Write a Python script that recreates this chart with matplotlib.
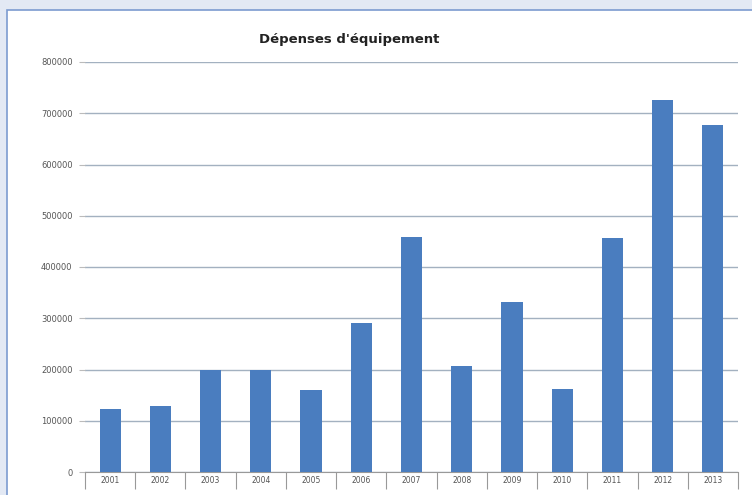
import numpy as np
import matplotlib
matplotlib.use('Agg')
import matplotlib.pyplot as plt
from matplotlib.patches import Rectangle

# Données
annees = ['2001', '2002', '2003', '2004', '2005', '2006', '2007',
          '2008', '2009', '2010', '2011', '2012', '2013']
depenses = [123000, 129000, 199000, 199000, 160000, 290000, 459000,
            207000, 332000, 162000, 457000, 726000, 677000]
graduations = [0, 100000, 200000, 300000, 400000, 500000, 600000, 700000, 800000]

W, H = 752, 495
fig = plt.figure(figsize=(W / 100, H / 100), dpi=100)
fig.patch.set_facecolor('#e3e9f4')

# Panneau blanc avec bordure bleue (derrière les axes)
fig.add_artist(Rectangle((7 / W, -0.05), 1, 1.05 - 10 / H, transform=fig.transFigure,
                         facecolor='white', edgecolor='#7c9bd0', linewidth=1.2,
                         zorder=-10))

ax = fig.add_axes([85 / W, 1 - 472 / H, (738 - 85) / W, (472 - 62) / H])
ax.set_facecolor('white')

x = np.arange(len(annees))
ax.bar(x, depenses, width=0.42, color='#4a7dbf', zorder=3)

ax.set_xlim(-0.5, len(annees) - 0.5)
ax.set_ylim(0, 800000)
ax.set_yticks(graduations)
ax.set_yticklabels([str(g) for g in graduations], fontsize=6, color='#555555')
ax.yaxis.grid(True, color='#a3b1c0', linewidth=1.0, zorder=0)
ax.tick_params(axis='y', length=4, color='#bbbbbb', pad=5)

ax.set_xticks(x)
ax.set_xticklabels(annees, fontsize=5.5, color='#555555')
ax.set_xticks(np.arange(len(annees) + 1) - 0.5, minor=True)
ax.tick_params(axis='x', which='major', length=0, pad=3)
ax.tick_params(axis='x', which='minor', length=12, color='#999999', width=0.8)

for side in ['top', 'right', 'left']:
    ax.spines[side].set_visible(False)
ax.spines['bottom'].set_color('#999999')

fig.text(349 / W, 1 - 40 / H, "Dépenses d'équipement", ha='center', va='center',
         fontsize=9.5, fontweight='bold', color='#222222')

fig.savefig('out.png', dpi=100, facecolor=fig.get_facecolor())
